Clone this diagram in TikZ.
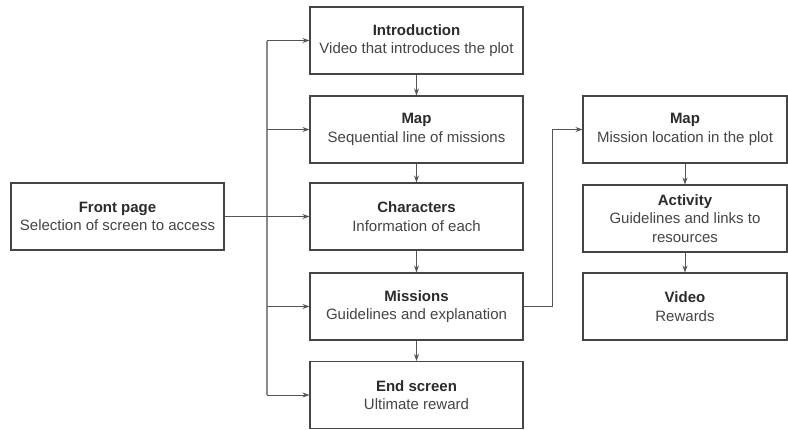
\documentclass[tikz,border=0pt]{standalone}
\usepackage{fontspec}
\setmainfont{Liberation Sans}
\usepackage{xcolor}
\usetikzlibrary{arrows.meta,positioning,calc}
\definecolor{ink}{HTML}{2B2B2B}
\definecolor{inkgray}{HTML}{454545}
\definecolor{linegray}{HTML}{555555}
\definecolor{busgray}{HTML}{8A8A8A}
\tikzset{
  screen/.style={draw=inkgray,line width=1.1pt,fill=white,align=center,
    minimum width=213pt,minimum height=67pt,inner sep=2pt,
    font=\fontsize{15}{18.5}\selectfont\color{inkgray}},
  subscreen/.style={screen,minimum width=204pt},
  link/.style={linegray,line width=0.8pt,-{Stealth[length=7pt,width=5pt]}},
  bus/.style={busgray,line width=1.2pt}
}
\newcommand{\ttl}[1]{{\bfseries\color{ink}#1}}

\begin{document}
\begin{tikzpicture}[x=1pt,y=-1pt]
      \useasboundingbox (0,0) rectangle (788,429);
      % front page and the screens it opens
      \node[screen] (front) at (117.5,216.5) {\ttl{Front page}\\Selection of screen to access};
      \node[screen] (intro) at (416.5,40.5) {\ttl{Introduction}\\Video that introduces the plot};
      \node[screen] (map) at (416.5,129.5) {\ttl{Map}\\Sequential line of missions};
      \node[screen] (chars) at (416.5,216.5) {\ttl{Characters}\\Information of each};
      \node[screen] (missions) at (416.5,306.5) {\ttl{Missions}\\Guidelines and explanation};
      \node[screen] (endscr) at (416.5,395) {\ttl{End screen}\\Ultimate reward};
      % one mission
      \node[subscreen] (mmap) at (685,129.5) {\ttl{Map}\\Mission location in the plot};
      \node[subscreen] (activity) at (685,218.5) {\ttl{Activity}\\Guidelines and links to\\resources};
      \node[subscreen] (video) at (685,306.5) {\ttl{Video}\\Rewards};
      \coordinate (split) at (267,216.5);
      \coordinate (turn) at (552,306.5);
      \draw[bus] (split |- intro.west) -- (split |- endscr.west);
      \draw[link] (front.east) -- (chars.west);
      \foreach \s in {intro,map,missions,endscr}
        \draw[link] (split |- \s.west) -- (\s.west);
      \draw[link] (intro) -- (map);
      \draw[link] (map) -- (chars);
      \draw[link] (chars) -- (missions);
      \draw[link] (missions) -- (endscr);
      \draw[link] (missions.east) -- (turn) |- (mmap.west);
      \draw[link] (mmap) -- (activity);
      \draw[link] (activity) -- (video);
    \end{tikzpicture}
\end{document}
